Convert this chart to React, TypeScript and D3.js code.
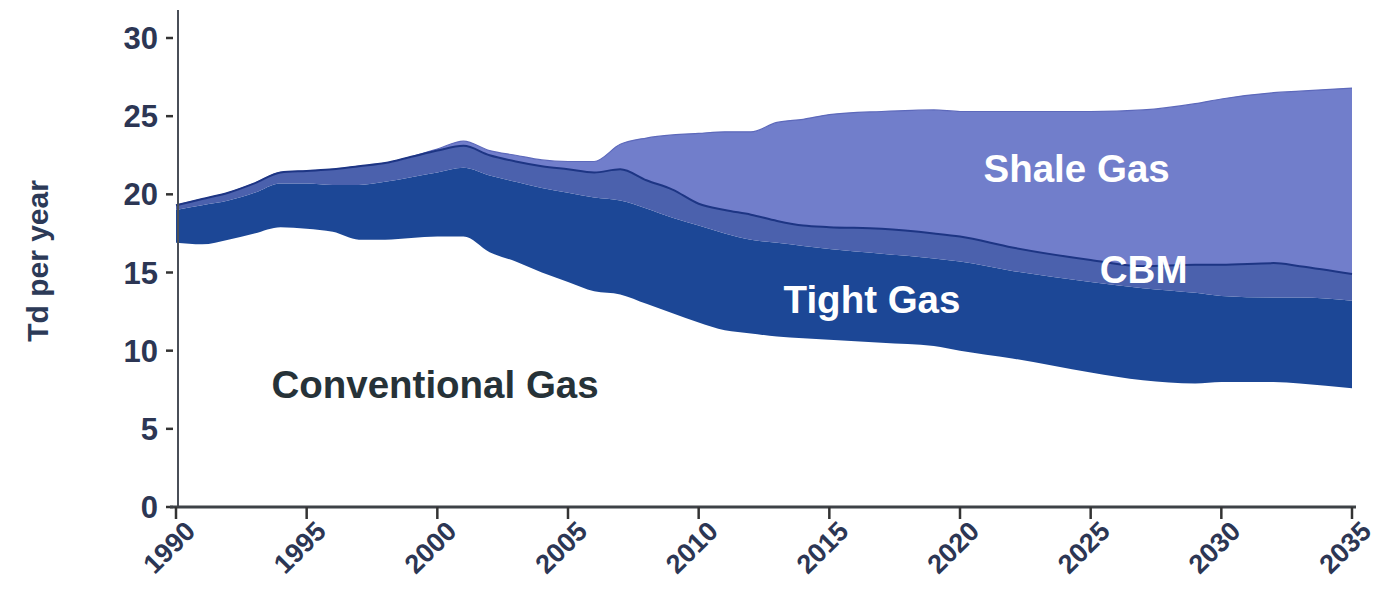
import React from "react";
import * as d3 from "d3";

const years = [1990,1991,1992,1993,1994,1995,1996,1997,1998,1999,2000,2001,2002,2003,2004,2005,2006,2007,2008,2009,2010,2011,2012,2013,2014,2015,2017,2019,2020,2022,2025,2027,2029,2030,2032,2033,2035];
const conventional = [16.9,16.8,17.1,17.5,17.9,17.8,17.6,17.1,17.1,17.2,17.3,17.3,16.3,15.7,15.0,14.4,13.8,13.6,13.0,12.4,11.8,11.3,11.1,10.9,10.8,10.7,10.5,10.3,10.0,9.5,8.6,8.1,7.9,8.0,8.0,7.9,7.6];
const tight = [2.1,2.5,2.5,2.6,2.8,2.9,3.0,3.5,3.7,3.9,4.1,4.4,4.9,5.1,5.4,5.7,6.0,6.0,6.1,6.1,6.2,6.2,6.0,6.0,5.9,5.8,5.7,5.6,5.7,5.6,5.8,5.9,5.8,5.5,5.4,5.5,5.6];
const cbm = [0.3,0.4,0.5,0.6,0.7,0.8,1.0,1.2,1.2,1.3,1.4,1.4,1.3,1.3,1.4,1.5,1.6,2.0,1.8,1.8,1.4,1.5,1.6,1.4,1.3,1.4,1.6,1.6,1.6,1.5,1.4,1.4,1.8,2.0,2.2,2.0,1.7];
const shale = [0,0,0,0,0,0,0,0,0,0,0.1,0.3,0.3,0.4,0.4,0.5,0.7,1.6,2.7,3.5,4.5,5.0,5.3,6.3,6.8,7.2,7.5,7.9,8.0,8.7,9.5,10.0,10.3,10.6,10.9,11.2,11.9];

const yTicks = [0, 5, 10, 15, 20, 25, 30];
const xTicks = [1990, 1995, 2000, 2005, 2010, 2015, 2020, 2025, 2030, 2035];

const seriesKeys = ["conventional", "tight", "cbm", "shale"];
const seriesColors: Record<string, string> = {
  conventional: "#ffffff",
  tight: "#1c4796",
  cbm: "#4b61ad",
  shale: "#717ecb",
};

const labels = [
  { text: "Conventional Gas", year: 1993.65, value: 7.0, color: "#263238" },
  { text: "Tight Gas", year: 2013.25, value: 12.4, color: "#ffffff" },
  { text: "Shale Gas", year: 2020.9, value: 20.8, color: "#ffffff" },
  { text: "CBM", year: 2025.35, value: 14.3, color: "#ffffff" },
];

const W = 1377;
const H = 605;
const FONT = "'Liberation Sans', Arial, Helvetica, sans-serif";

export default function App() {
  const x = d3.scaleLinear().domain([1990, 2035]).range([176, 1352]);
  const y = d3.scaleLinear().domain([0, 30]).range([507, 38]);

  const rows = years.map((yr, i) => ({
    year: yr,
    conventional: conventional[i],
    tight: tight[i],
    cbm: cbm[i],
    shale: shale[i],
  }));

  const stack = d3.stack<any>().keys(seriesKeys);
  const stacked = stack(rows);

  const area = d3
    .area<any>()
    .x((d) => x(d.data.year))
    .y0((d) => y(d[0]))
    .y1((d) => y(d[1]))
    .curve(d3.curveMonotoneX);

  const topLine = d3
    .line<any>()
    .x((d) => x(d.data.year))
    .y((d) => y(d[1]))
    .curve(d3.curveMonotoneX);

  const cbmLayer = stacked.find((s) => s.key === "cbm")!;
  const shaleLayer = stacked.find((s) => s.key === "shale")!;

  return (
    <svg
      width={W}
      height={H}
      style={{ position: "absolute", left: 0, top: 0, background: "#ffffff" }}
      fontFamily={FONT}
    >
      {stacked.map((s) => (
        <path
          key={s.key}
          d={area(s as any) || ""}
          fill={seriesColors[s.key]}
          stroke="none"
        />
      ))}
      <path d={topLine(shaleLayer as any) || ""} fill="none" stroke="#5d69bb" strokeWidth={1.2} />
      <path d={topLine(cbmLayer as any) || ""} fill="none" stroke="#1d3584" strokeWidth={2} />

      {/* y axis */}
      <line x1={178} x2={178} y1={10} y2={507} stroke="#4a4f58" strokeWidth={2} />
      {yTicks.map((t) => (
        <g key={t}>
          <line x1={166} x2={173} y1={y(t)} y2={y(t)} stroke="#333" strokeWidth={2.5} />
          <text
            x={158}
            y={y(t)}
            dy="0.36em"
            textAnchor="end"
            fontSize={31}
            fontWeight="bold"
            fill="#2c3654"
          >
            {t}
          </text>
        </g>
      ))}

      {/* x axis */}
      <line x1={170} x2={1356} y1={507} y2={507} stroke="#3e4247" strokeWidth={3} />
      {xTicks.map((t) => (
        <g key={t}>
          <line x1={x(t)} x2={x(t)} y1={507} y2={519} stroke="#333" strokeWidth={2.5} />
          <text
            transform={`translate(${x(t) + 14},${526}) rotate(-45)`}
            textAnchor="end"
            dy="0.36em"
            fontSize={27}
            fontWeight="bold"
            fill="#2c3654"
          >
            {t}
          </text>
        </g>
      ))}

      <text
        transform={`translate(${37},${261}) rotate(-90)`}
        textAnchor="middle"
        dy="0.36em"
        fontSize={30}
        fontWeight="bold"
        fill="#2c3a57"
      >
        Td per year
      </text>

      {labels.map((l) => (
        <text
          key={l.text}
          x={x(l.year)}
          y={y(l.value)}
          fontSize={38.5}
          fontWeight="bold"
          fill={l.color}
        >
          {l.text}
        </text>
      ))}
    </svg>
  );
}
